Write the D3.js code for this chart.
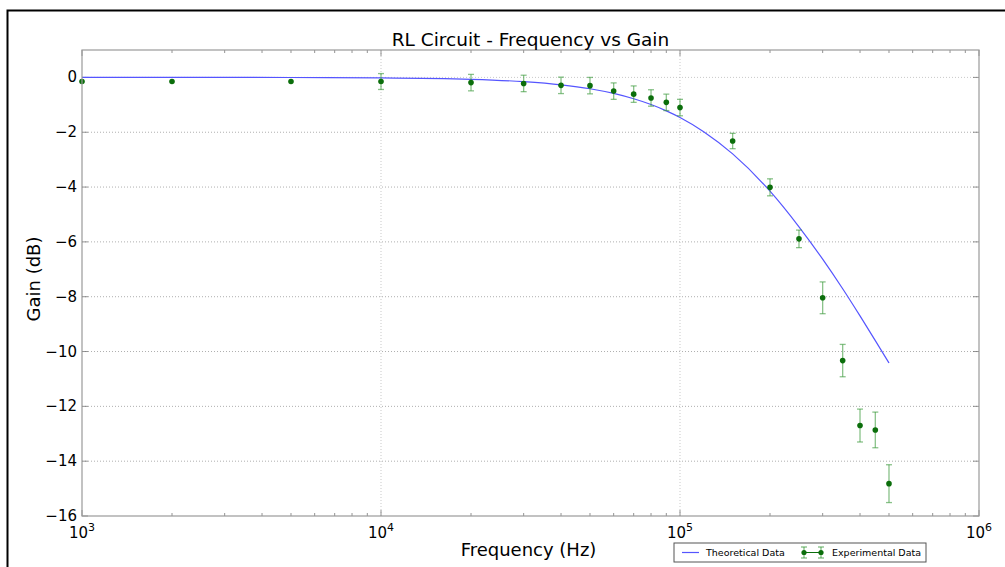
<!DOCTYPE html>
<html>
<head>
<meta charset="utf-8">
<script src="https://cdn.jsdelivr.net/npm/d3@7"></script>
<style>
  body { margin: 0; background: #fff; }
  svg { display: block; font-family: "DejaVu Sans", sans-serif; }
</style>
</head>
<body>
<svg id="chart" width="1005" height="567"></svg>
<script>
// Experimental measurements
const expFreq = [1e3, 2e3, 5e3, 1e4, 2e4, 3e4, 4e4, 5e4, 6e4, 7e4, 8e4, 9e4, 1e5,
  1.5e5, 2e5, 2.5e5, 3e5, 3.5e5, 4e5, 4.5e5, 5e5];
const expGain = [-0.15, -0.15, -0.15, -0.15, -0.19, -0.22, -0.29, -0.3, -0.5, -0.61, -0.75, -0.91, -1.1,
  -2.32, -4.01, -5.89, -8.04, -10.33, -12.7, -12.86, -14.82];
const expErr = [0, 0, 0, 0.29, 0.3, 0.3, 0.3, 0.3, 0.3, 0.3, 0.3, 0.3, 0.3,
  0.28, 0.31, 0.32, 0.58, 0.59, 0.6, 0.65, 0.69];

// Theoretical curve
const theoFreq = [1e3, 2e3, 5e3, 1e4, 2e4, 3e4, 4e4, 5e4, 6e4, 7e4, 8e4, 9e4, 1e5,
  1.2e5, 1.5e5, 2e5, 2.5e5, 3e5, 3.5e5, 4e5, 4.5e5, 5e5];
const theoGain = [0, 0, -0.004, -0.017, -0.069, -0.154, -0.27, -0.414, -0.585, -0.78, -0.99, -1.22, -1.46,
  -1.98, -2.79, -4.15, -5.45, -6.63, -7.71, -8.7, -9.6, -10.42];

const yTicks = [0, -2, -4, -6, -8, -10, -12, -14, -16];
const xTicks = [1e3, 1e4, 1e5, 1e6];

const svg = d3.select("#chart");
const margin = { top: 50, right: 26, bottom: 51, left: 82 };
const width = 1005, height = 567;
const chartWidth = width - margin.left - margin.right;
const chartHeight = height - margin.top - margin.bottom;

// outer frame (clipped on right/bottom)
svg.append("rect")
  .attr("x", 7.5).attr("y", 10.5)
  .attr("width", 1100).attr("height", 700)
  .attr("fill", "none").attr("stroke", "#000").attr("stroke-width", 2);

const xScale = d3.scaleLog().domain([1e3, 1e6]).range([0, chartWidth]);
const yScale = d3.scaleLinear().domain([-16, 1]).range([chartHeight, 0]);

const chartArea = svg.append("g")
  .attr("transform", `translate(${margin.left},${margin.top})`);

// gridlines
chartArea.append("g").selectAll("line").data(yTicks.slice(1, -1)).join("line")
  .attr("x1", 0).attr("x2", chartWidth)
  .attr("y1", d => yScale(d)).attr("y2", d => yScale(d))
  .attr("stroke", "#999").attr("stroke-width", 0.8).attr("stroke-dasharray", "1,2");
chartArea.append("g").selectAll("line").data(yTicks.slice(0, 1)).join("line")
  .attr("x1", 0).attr("x2", chartWidth)
  .attr("y1", d => yScale(d)).attr("y2", d => yScale(d))
  .attr("stroke", "#bbb").attr("stroke-width", 0.8).attr("stroke-dasharray", "1,2");
chartArea.append("g").selectAll("line").data(xTicks.slice(1, -1)).join("line")
  .attr("x1", d => xScale(d)).attr("x2", d => xScale(d))
  .attr("y1", 0).attr("y2", chartHeight)
  .attr("stroke", "#bbb").attr("stroke-width", 0.8).attr("stroke-dasharray", "1,2");

// ticks (inward, all four sides)
const minorTicks = [];
[1e3, 1e4, 1e5].forEach(dec => { for (let k = 2; k <= 9; k++) minorTicks.push(dec * k); });
const tickG = chartArea.append("g").attr("stroke", "#777").attr("stroke-width", 0.8);
[0, chartHeight].forEach(yy => {
  const dir = yy === 0 ? 1 : -1;
  tickG.append("g").selectAll("line").data(xTicks).join("line")
    .attr("x1", d => xScale(d)).attr("x2", d => xScale(d))
    .attr("y1", yy).attr("y2", yy + dir * 6);
  tickG.append("g").selectAll("line").data(minorTicks).join("line")
    .attr("x1", d => xScale(d)).attr("x2", d => xScale(d))
    .attr("y1", yy).attr("y2", yy + dir * 3);
});
[0, chartWidth].forEach(xx => {
  const dir = xx === 0 ? 1 : -1;
  tickG.append("g").selectAll("line").data(yTicks).join("line")
    .attr("x1", xx).attr("x2", xx + dir * 6)
    .attr("y1", d => yScale(d)).attr("y2", d => yScale(d));
});

// theoretical line
const line = d3.line()
  .x((d, i) => xScale(theoFreq[i]))
  .y(d => yScale(d))
  .curve(d3.curveMonotoneX);
chartArea.append("path")
  .datum(theoGain)
  .attr("d", line)
  .attr("fill", "none")
  .attr("stroke", "#5555ff")
  .attr("stroke-width", 1.2);

// experimental error bars + points
const expData = expFreq.map((f, i) => ({ f, g: expGain[i], e: expErr[i] }));
const eb = chartArea.append("g").attr("stroke", "#3a9a3a").attr("stroke-opacity", 0.6).attr("stroke-width", 1.3);
eb.selectAll("line.bar").data(expData.filter(d => d.e > 0)).join("line")
  .attr("class", "bar")
  .attr("x1", d => xScale(d.f)).attr("x2", d => xScale(d.f))
  .attr("y1", d => yScale(d.g + d.e)).attr("y2", d => yScale(d.g - d.e));
eb.selectAll("line.capt").data(expData.filter(d => d.e > 0)).join("line")
  .attr("class", "capt")
  .attr("x1", d => xScale(d.f) - 3).attr("x2", d => xScale(d.f) + 3)
  .attr("y1", d => yScale(d.g + d.e)).attr("y2", d => yScale(d.g + d.e));
eb.selectAll("line.capb").data(expData.filter(d => d.e > 0)).join("line")
  .attr("class", "capb")
  .attr("x1", d => xScale(d.f) - 3).attr("x2", d => xScale(d.f) + 3)
  .attr("y1", d => yScale(d.g - d.e)).attr("y2", d => yScale(d.g - d.e));
chartArea.append("g").selectAll("circle").data(expData).join("circle")
  .attr("cx", d => xScale(d.f)).attr("cy", d => yScale(d.g))
  .attr("r", 2.8).attr("fill", "#0b6e0b");

// axes frame
chartArea.append("rect")
  .attr("width", chartWidth).attr("height", chartHeight)
  .attr("fill", "none").attr("stroke", "#9a9a9a").attr("stroke-width", 1.2);

// tick labels
chartArea.append("g").selectAll("text").data(yTicks).join("text")
  .attr("x", -5).attr("y", d => yScale(d) + 5)
  .attr("text-anchor", "end").style("font-size", "15px")
  .text(d => d < 0 ? "\u2212" + Math.abs(d) : d);

const xl = chartArea.append("g").selectAll("text").data(xTicks).join("text")
  .attr("x", d => xScale(d)).attr("y", chartHeight + 22)
  .attr("text-anchor", "middle").style("font-size", "15px");
xl.append("tspan").text("10");
xl.append("tspan").attr("dy", -7).style("font-size", "11px").text(d => Math.round(Math.log10(d)));

// title and axis labels
svg.append("text")
  .attr("x", margin.left + chartWidth / 2).attr("y", 46)
  .attr("text-anchor", "middle").style("font-size", "18.5px")
  .text("RL Circuit - Frequency vs Gain");
svg.append("text")
  .attr("x", margin.left + chartWidth / 2 - 2).attr("y", 556)
  .attr("text-anchor", "middle").style("font-size", "18px")
  .text("Frequency (Hz)");
svg.append("text")
  .attr("transform", "rotate(-90)")
  .attr("x", -(margin.top + chartHeight / 2) + 4).attr("y", 40)
  .attr("text-anchor", "middle").style("font-size", "18px")
  .text("Gain (dB)");

// legend
const lg = svg.append("g").attr("transform", "translate(674,543)");
lg.append("rect").attr("width", 252).attr("height", 19)
  .attr("fill", "#fff").attr("stroke", "#555").attr("stroke-width", 1);
lg.append("line").attr("x1", 8).attr("x2", 25).attr("y1", 9.5).attr("y2", 9.5)
  .attr("stroke", "#5555ff").attr("stroke-width", 1.2);
lg.append("text").attr("x", 32).attr("y", 13).style("font-size", "9.5px").text("Theoretical Data");
[130, 147].forEach(cx => {
  const m = lg.append("g").attr("stroke", "#3a9a3a").attr("stroke-opacity", 0.7).attr("stroke-width", 1.2);
  m.append("line").attr("x1", cx).attr("x2", cx).attr("y1", 4).attr("y2", 15);
  m.append("line").attr("x1", cx - 3).attr("x2", cx + 3).attr("y1", 4).attr("y2", 4);
  m.append("line").attr("x1", cx - 3).attr("x2", cx + 3).attr("y1", 15).attr("y2", 15);
});
lg.append("line").attr("x1", 130).attr("x2", 147).attr("y1", 9.5).attr("y2", 9.5)
  .attr("stroke", "#0b6e0b").attr("stroke-width", 1);
lg.selectAll("circle.m").data([130, 147]).join("circle")
  .attr("cx", d => d).attr("cy", 9.5).attr("r", 2.6).attr("fill", "#0b6e0b");
lg.append("text").attr("x", 158).attr("y", 13).style("font-size", "9.5px").text("Experimental Data");
</script>
</body>
</html>
